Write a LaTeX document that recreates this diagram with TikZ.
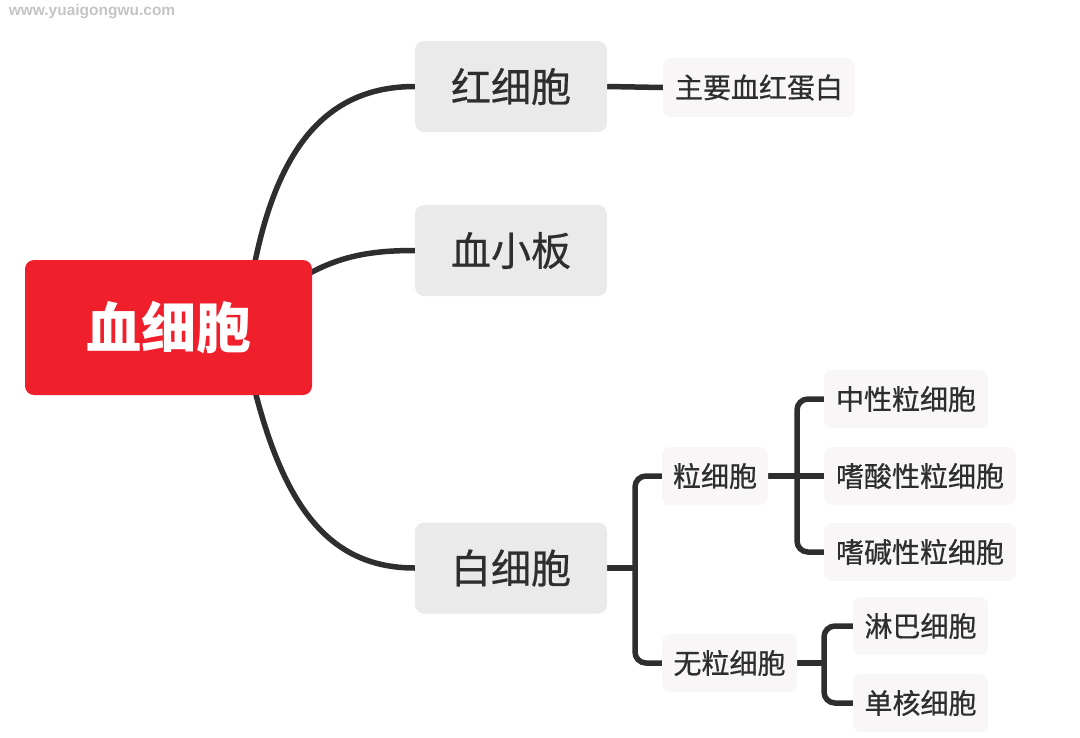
\documentclass[tikz,border=0pt]{standalone}
\usepackage{fontspec}
\newfontfamily\cjk{Noto Sans CJK SC}
\newfontfamily\cjkmed[FakeBold=0.6]{Noto Sans CJK SC}
\newfontfamily\wmfont{Liberation Sans}
\usetikzlibrary{backgrounds}
\definecolor{rootred}{HTML}{F01F2C}
\definecolor{boxgray}{HTML}{EAEAEA}
\definecolor{boxlight}{HTML}{F8F6F6}
\definecolor{ink}{HTML}{2E2E2E}
\definecolor{wm}{HTML}{C4C4C4}
\tikzset{
  rootbox/.style={fill=rootred, rounded corners=9pt, inner sep=0pt, text=white, font=\cjk\bfseries\fontsize{55}{60}\selectfont, minimum width=287pt, minimum height=135pt},
  mainbox/.style={fill=boxgray, rounded corners=9pt, inner sep=0pt, text=ink, font=\cjkmed\fontsize{40}{44}\selectfont, minimum width=192pt, minimum height=91pt},
  subbox/.style={fill=boxlight, rounded corners=8pt, inner sep=0pt, text=ink, font=\cjkmed\fontsize{28}{32}\selectfont, minimum height=58pt},
  link/.style={draw=ink, line width=5.5pt},
  bracket/.style={link, rounded corners=11pt}
}
\begin{document}
\begin{tikzpicture}[x=1pt, y=-1pt]
\useasboundingbox (0,0) rectangle (1080,737);
\node[font=\wmfont\bfseries\fontsize{15.5}{16}\selectfont, text=wm] (wmark) at (92,12) {www.yuaigongwu.com};

\node[rootbox] (root) at (168.5,327.5) {血细胞};
\node[mainbox] (rbc) at (511,86.5) {红细胞};
\node[mainbox] (plt) at (511,250.5) {血小板};
\node[mainbox] (wbc) at (511,568) {白细胞};
\node[subbox, minimum width=192pt, minimum height=59pt] (hb) at (759,87.5) {主要血红蛋白};
\node[subbox, minimum width=106pt] (gran) at (715,476) {粒细胞};
\node[subbox, minimum width=135pt] (agran) at (729.5,663) {无粒细胞};
\node[subbox, minimum width=164pt] (neu) at (906,399) {中性粒细胞};
\node[subbox, minimum width=192pt] (eos) at (920,476) {嗜酸性粒细胞};
\node[subbox, minimum width=192pt] (bas) at (920,552) {嗜碱性粒细胞};
\node[subbox, minimum width=135pt] (lym) at (920.5,626) {淋巴细胞};
\node[subbox, minimum width=135pt] (mono) at (920.5,703) {单核细胞};

\coordinate (s1) at (253,272);
\coordinate (s2) at (295,282);
\coordinate (s3) at (253,383);
\coordinate (j1) at (635,568);
\coordinate (j2) at (797,476);
\coordinate (j3) at (824,663);

\begin{pgfonlayer}{background}
\draw[link] (s1) .. controls (276,150) and (325,86.5) .. (rbc.west);
\draw[link] (s2) .. controls (335,256) and (370,250.5) .. (plt.west);
\draw[link] (s3) .. controls (283,505) and (328,568) .. (wbc.west);
\draw[link] (rbc.east) -- (hb.west);
\draw[link] (wbc.east) -- (j1);
\draw[bracket] (gran.west) -| (j1) |- (agran.west);
\draw[link] (gran.east) -- (j2);
\draw[bracket] (neu.west) -| (j2) |- (bas.west);
\draw[link] (j2) -- (eos.west);
\draw[link] (agran.east) -- (j3);
\draw[bracket] (lym.west) -| (j3) |- (mono.west);
\end{pgfonlayer}
\end{tikzpicture}
\end{document}
